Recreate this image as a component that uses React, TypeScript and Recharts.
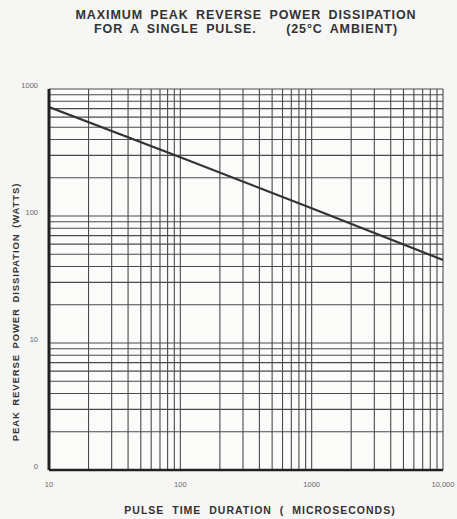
import { LineChart, Line, XAxis, YAxis, CartesianGrid } from 'recharts'

const pulseTimes = [10, 100, 1000, 10000]
const peakWatts = [720, 290, 115, 45]
const xTicks = [10, 20, 30, 40, 50, 60, 70, 80, 90, 100, 200, 300, 400, 500, 600, 700, 800, 900, 1000, 2000, 3000, 4000, 5000, 6000, 7000, 8000, 9000, 10000]
const yTicks = [1, 2, 3, 4, 5, 6, 7, 8, 9, 10, 20, 30, 40, 50, 60, 70, 80, 90, 100, 200, 300, 400, 500, 600, 700, 800, 900, 1000]
const xLabels: Record<number, string> = { 10: '10', 100: '100', 1000: '1000', 10000: '10,000' }
const yLabels: Record<number, string> = { 1: '0', 10: '10', 100: '100', 1000: '1000' }

const data = pulseTimes.map((t, i) => ({ t, p: peakWatts[i] }))
const ink = '#333'
const font = '"Liberation Sans", Arial, sans-serif'

function XTick({ x, y, payload }: any) {
  const s = xLabels[payload.value]
  if (!s) return null
  return <text x={x} y={y + 9} textAnchor="middle" fontSize={7.5} fill="#666" fontFamily={font}>{s}</text>
}

function YTick({ x, y, payload }: any) {
  const s = yLabels[payload.value]
  if (!s) return null
  return <text x={x - 3} y={y - 1} textAnchor="end" fontSize={7.5} fill="#666" fontFamily={font}>{s}</text>
}

export default function App() {
  return (
    <div style={{ position: 'absolute', left: 0, top: 0, width: 457, height: 519, background: '#f6f6f4', fontFamily: font, color: ink }}>
      <div style={{ position: 'absolute', left: 0, width: 492, top: 8, textAlign: 'center', fontWeight: 'bold', fontSize: 12.5, lineHeight: '14px', letterSpacing: 0.9, wordSpacing: 3 }}>
        MAXIMUM PEAK REVERSE POWER DISSIPATION<br />FOR A SINGLE PULSE.&nbsp;&nbsp;&nbsp;&nbsp;(25°C AMBIENT)
      </div>
      <LineChart width={457} height={519} data={data} margin={{ top: 89, right: 14, bottom: 29, left: 9 }}>
        <CartesianGrid stroke="#4a4a4a" strokeWidth={1.1} fill="#fbfbfa" />
        <XAxis dataKey="t" type="number" scale="log" domain={[10, 10000]} ticks={xTicks} interval={0} tick={<XTick />} tickLine={false} axisLine={{ stroke: '#222', strokeWidth: 2.5 }} height={20} allowDataOverflow />
        <XAxis xAxisId="top" dataKey="t" type="number" scale="log" domain={[10, 10000]} orientation="top" tick={false} tickLine={false} axisLine={{ stroke: '#222', strokeWidth: 2 }} height={0} />
        <YAxis dataKey="p" type="number" scale="log" domain={[1, 1000]} ticks={yTicks} interval={0} tick={<YTick />} tickLine={false} axisLine={{ stroke: '#222', strokeWidth: 3 }} width={40} allowDataOverflow />
        <YAxis yAxisId="right" type="number" scale="log" domain={[1, 1000]} orientation="right" tick={false} tickLine={false} axisLine={{ stroke: '#222', strokeWidth: 2.5 }} width={0} />
        <Line dataKey="p" stroke="#333" strokeWidth={2.2} dot={false} isAnimationActive={false} />
      </LineChart>
      <svg width={30} height={519} style={{ position: 'absolute', left: 0, top: 0 }}>
        <text x={0} y={0} transform="translate(19 312) rotate(-90)" textAnchor="middle" fontWeight="bold" fontSize={9.5} letterSpacing={0.9} wordSpacing={2} fill={ink} fontFamily={font}>
          PEAK REVERSE POWER DISSIPATION (WATTS)
        </text>
      </svg>
      <div style={{ position: 'absolute', left: 60, width: 400, top: 504, textAlign: 'center', fontWeight: 'bold', fontSize: 10.5, letterSpacing: 1, wordSpacing: 4 }}>
        PULSE TIME DURATION ( MICROSECONDS)
      </div>
    </div>
  )
}
